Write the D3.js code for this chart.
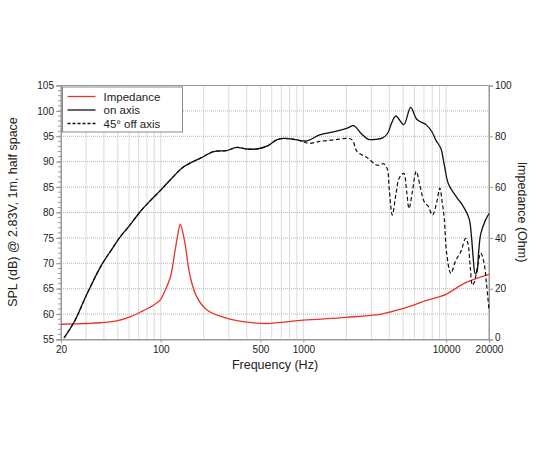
<!DOCTYPE html>
<html>
<head>
<meta charset="utf-8">
<script src="https://cdn.jsdelivr.net/npm/d3@7"></script>
<style>
  body { margin: 0; background: #fff; }
  text { font-family: "Liberation Sans", Arial, Helvetica, sans-serif; fill: #222; }
</style>
</head>
<body>
<svg id="chart"></svg>
<script>
// on axis SPL (Hz, dB)
var onFreq = [21, 25, 30, 38, 45, 52, 60, 72, 85, 100, 120, 145, 190, 235, 290, 340, 400, 470, 560, 650, 730, 860,
              1060, 1300, 1650, 2030, 2250, 2550, 2850, 3200, 3600, 3900, 4150, 4450, 5050, 5650, 6250, 7300, 8000,
              8500, 9200, 9700, 10400, 12000, 13000, 14500, 15100, 15500, 16000, 16400, 16900, 17500, 18900, 20000]
var onSpl  = [55.3, 58.7, 63.6, 69.4, 72.6, 75.2, 77.3, 80.2, 82.4, 84.4, 86.8, 89.0, 90.7, 92.0, 92.2, 92.8, 92.5, 92.5, 93.1, 94.3, 94.6, 94.4,
              94.1, 95.3, 95.9, 96.6, 97.1, 95.5, 94.4, 94.4, 94.7, 95.6, 97.6, 99.0, 97.3, 100.7, 98.3, 97.2, 95.8,
              94.2, 92.6, 89.5, 85.6, 82.8, 81.5, 78.8, 75.0, 71.0, 68.0, 68.2, 72.0, 75.8, 78.5, 79.8]

// 45 deg off axis SPL (Hz, dB)
var offFreq = [21, 25, 30, 38, 45, 52, 60, 72, 85, 100, 120, 145, 190, 235, 290, 340, 400, 470, 560, 650, 730, 860,
               1000, 1100, 1300, 1650, 2030, 2200, 2380, 2800, 3300, 3650, 3870, 4000, 4200, 4450, 4700, 5050, 5300,
               5500, 5800, 6180, 6600, 7030, 7500, 8040, 8600, 9040, 9400, 9700, 10100, 10800, 11700, 12700, 13700,
               14200, 14800, 15300, 15800, 16500, 17500, 18400, 19200, 20000]
var offSpl  = [55.3, 58.7, 63.6, 69.4, 72.6, 75.2, 77.3, 80.2, 82.4, 84.4, 86.8, 89.0, 90.7, 92.0, 92.2, 92.8, 92.5, 92.5, 93.1, 94.3, 94.6, 94.4,
               93.9, 93.6, 94.0, 94.3, 94.6, 94.3, 92.0, 90.8, 89.3, 89.6, 88.6, 84.5, 79.5, 83.5, 86.8, 87.7, 84.0,
               80.8, 84.0, 88.1, 85.0, 82.1, 81.2, 79.5, 82.0, 84.8, 82.0, 79.0, 72.0, 68.0, 70.6, 72.3, 74.9,
               74.0, 69.0, 65.7, 66.3, 69.0, 72.0, 70.3, 66.0, 60.8]

// impedance (Hz, Ohm)
var impFreq = [20, 30, 38, 50, 61, 75, 89, 100, 105, 117, 126, 132, 137, 143, 148, 161, 179, 211, 292, 404, 557,
               1000, 2000, 3500, 5000, 7400, 10000, 13400, 20000]
var impOhm  = [6.0, 6.3, 6.6, 7.4, 8.9, 11.3, 13.5, 15.8, 18.1, 24.7, 35.0, 41.5, 45.4, 42.0, 37.8, 24.7, 16.8, 11.6, 8.3, 6.8, 6.3,
               7.6, 8.7, 10.0, 12.2, 15.5, 17.8, 22.1, 25.6]

var xTickVals = [20, 100, 500, 1000, 10000, 20000]
var yTickVals = [55, 60, 65, 70, 75, 80, 85, 90, 95, 100, 105]
var rTickVals = [0, 20, 40, 60, 80, 100]

var legendNames = ["Impedance", "on axis", "45\u00b0 off axis"]

var W = 550, H = 450
var margin = {top: 85.5, right: 61, bottom: 110.5, left: 61}
var width = W - margin.left - margin.right
var height = H - margin.top - margin.bottom

var svg = d3.select("#chart")
    .attr("width", W)
    .attr("height", H)

var g = svg.append("g")
    .attr("transform", "translate(" + margin.left + "," + margin.top + ")")

var x = d3.scaleLog().domain([20, 20000]).range([0, width])
var y = d3.scaleLinear().domain([55, 105]).range([height, 0])
var yr = d3.scaleLinear().domain([0, 100]).range([height, 0])

// grid lines
var gridX = []
;[10, 100, 1000, 10000].forEach(function(dec){
    for (var k = 1; k <= 9; k++) {
        var f = dec * k
        if (f > 20 && f < 20000) gridX.push(f)
    }
})
g.append("g").selectAll("line")
    .data(gridX).enter().append("line")
    .attr("x1", function(d){ return x(d) }).attr("x2", function(d){ return x(d) })
    .attr("y1", 0).attr("y2", height)
    .attr("stroke", "#b8b8b8")
    .attr("stroke-width", 1)
    .attr("stroke-dasharray", "1,1")

g.append("g").selectAll("line")
    .data(yTickVals.filter(function(d){ return d > 55 && d < 105 })).enter().append("line")
    .attr("x1", 0).attr("x2", width)
    .attr("y1", function(d){ return y(d) }).attr("y2", function(d){ return y(d) })
    .attr("stroke", "#b8b8b8")
    .attr("stroke-width", 1)
    .attr("stroke-dasharray", "1,1")

// frame
g.append("rect")
    .attr("width", width).attr("height", height)
    .attr("fill", "none")
    .attr("stroke", "#999")
    .attr("stroke-width", 1)

// left axis
var leftAxis = d3.axisLeft(y).tickValues(yTickVals).tickSize(5).tickPadding(2)
var la = g.append("g").call(leftAxis)
la.select(".domain").attr("stroke", "#999")
la.selectAll(".tick line").attr("stroke", "#999")
la.selectAll("text").attr("font-size", "10px").attr("fill", "#222")
    .style("font-family", "'Liberation Sans', Arial, sans-serif")
g.append("g").selectAll("line")
    .data(d3.range(55, 106)).enter().append("line")
    .attr("x1", -3).attr("x2", 0)
    .attr("y1", function(d){ return y(d) }).attr("y2", function(d){ return y(d) })
    .attr("stroke", "#999")

// right axis
var rightAxis = d3.axisRight(yr).tickValues(rTickVals).tickSize(4).tickPadding(2)
var ra = g.append("g").attr("transform", "translate(" + width + ",0)").call(rightAxis)
ra.select(".domain").attr("stroke", "#999")
ra.selectAll(".tick line").attr("stroke", "#999")
ra.selectAll("text").attr("font-size", "10px").attr("fill", "#222")
    .style("font-family", "'Liberation Sans', Arial, sans-serif")
ra.selectAll(".tick").filter(function(d){ return d === 0 }).select("text").attr("dy", "0.1em")

// bottom axis
var bottomAxis = d3.axisBottom(x).tickValues(xTickVals).tickFormat(d3.format("d")).tickSize(3).tickPadding(3)
var ba = g.append("g").attr("transform", "translate(0," + height + ")").call(bottomAxis)
ba.select(".domain").attr("stroke", "#999")
ba.selectAll(".tick line").attr("stroke", "#999")
ba.selectAll("text").attr("font-size", "10px").attr("fill", "#222")
    .style("font-family", "'Liberation Sans', Arial, sans-serif")

// curves
var line = d3.line()
    .x(function(d){ return x(d[0]) })
    .y(function(d){ return d[1] })
    .curve(d3.curveCatmullRom.alpha(0.5))

g.append("path")
    .datum(impFreq.map(function(f, i){ return [f, yr(impOhm[i])] }))
    .attr("d", line)
    .attr("fill", "none")
    .attr("stroke", "#e8342b")
    .attr("stroke-width", 1.3)

g.append("path")
    .datum(offFreq.map(function(f, i){ return [f, y(offSpl[i])] }))
    .attr("d", line)
    .attr("fill", "none")
    .attr("stroke", "#111")
    .attr("stroke-width", 1.2)
    .attr("stroke-dasharray", "4,2.5")

g.append("path")
    .datum(onFreq.map(function(f, i){ return [f, y(onSpl[i])] }))
    .attr("d", line)
    .attr("fill", "none")
    .attr("stroke", "#111")
    .attr("stroke-width", 1.3)

// legend
var legend = g.append("g").attr("transform", "translate(1.5,1.5)")
legend.append("rect")
    .attr("width", 120).attr("height", 45)
    .attr("fill", "#fff")
    .attr("stroke", "#888")
    .attr("stroke-width", 1)
var legendStyles = [["#e8342b", null], ["#111", null], ["#111", "3,2"]]
legendNames.forEach(function(name, i){
    var ly = 9.5 + i * 13.5
    legend.append("line")
        .attr("x1", 5).attr("x2", 33)
        .attr("y1", ly).attr("y2", ly)
        .attr("stroke", legendStyles[i][0])
        .attr("stroke-width", 1.3)
        .attr("stroke-dasharray", legendStyles[i][1])
    legend.append("text")
        .attr("x", 41).attr("y", ly + 4)
        .attr("font-size", "11.5px")
        .text(name)
})

// axis titles
svg.append("text")
    .attr("x", 275).attr("y", 369)
    .attr("text-anchor", "middle")
    .attr("font-size", "12.5px")
    .text("Frequency (Hz)")

svg.append("text")
    .attr("transform", "translate(17,212) rotate(-90)")
    .attr("text-anchor", "middle")
    .attr("font-size", "12.5px")
    .text("SPL (dB) @ 2.83V, 1m, half space")

svg.append("text")
    .attr("transform", "translate(518,212) rotate(90)")
    .attr("text-anchor", "middle")
    .attr("font-size", "12.5px")
    .text("Impedance (Ohm)")
</script>
</body>
</html>
